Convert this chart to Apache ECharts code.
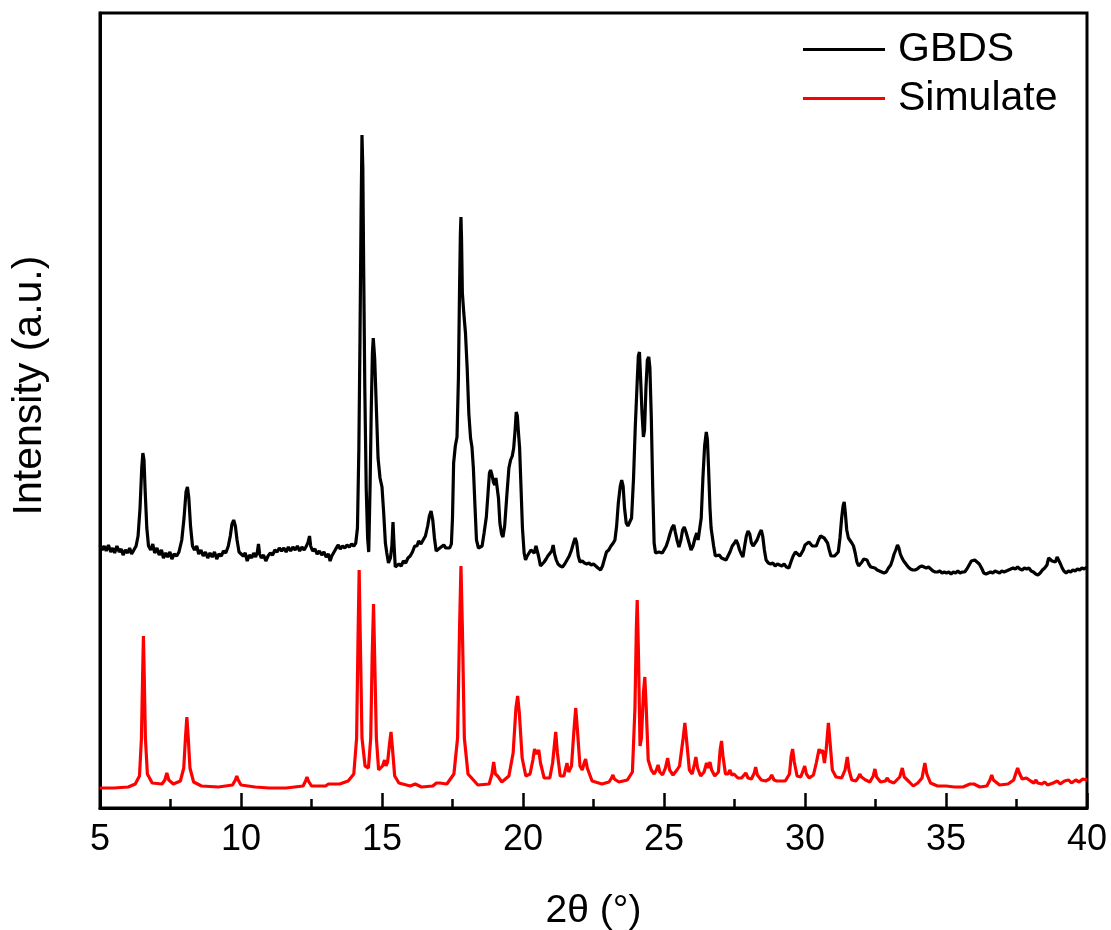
<!DOCTYPE html>
<html>
<head>
<meta charset="utf-8">
<script src="https://cdn.jsdelivr.net/npm/echarts@6/dist/echarts.min.js"></script>
<style>
html,body{margin:0;padding:0;background:#fff;}
#chart{width:1111px;height:930px;}
</style>
</head>
<body>
<div id="chart"></div>
<script>
// Series names
const seriesNames = ['GBDS', 'Simulate'];
// x-axis tick values (2θ, degrees)
const xTicks = [5, 10, 15, 20, 25, 30, 35, 40];

// Measured pattern GBDS: [2θ, intensity (a.u.)]
const gbds = [
[5.00,263],[5.08,258],[5.15,262],[5.22,257],[5.30,263],[5.38,256],[5.45,260],[5.52,255],[5.60,262],[5.68,256],[5.75,259],[5.82,253],[5.90,258],[5.98,255],[6.05,260],[6.12,254],[6.20,258],[6.28,262],[6.35,272],[6.42,300],[6.48,340],[6.52,355],[6.56,348],[6.60,318],[6.66,280],[6.72,262],[6.80,258],[6.87,264],[6.94,255],[7.02,260],[7.10,253],[7.18,258],[7.25,250],[7.33,255],[7.40,251],[7.48,256],[7.55,249],[7.63,254],[7.72,252],[7.80,256],[7.90,268],[7.98,290],[8.05,316],[8.10,321],[8.15,310],[8.21,282],[8.28,262],[8.35,258],[8.43,262],[8.50,254],[8.58,258],[8.66,252],[8.74,256],[8.82,250],[8.90,255],[8.98,251],[9.06,256],[9.14,249],[9.22,254],[9.30,252],[9.38,257],[9.46,255],[9.55,262],[9.62,272],[9.68,284],[9.74,288],[9.80,282],[9.86,268],[9.93,256],[10.00,258],[10.08,252],[10.15,255],[10.22,247],[10.30,253],[10.38,250],[10.45,255],[10.52,251],[10.58,256],[10.62,264],[10.66,254],[10.72,250],[10.80,253],[10.88,247],[10.96,252],[11.04,255],[11.12,253],[11.20,258],[11.28,256],[11.36,260],[11.44,257],[11.52,260],[11.60,256],[11.68,261],[11.76,257],[11.84,261],[11.92,258],[12.00,262],[12.08,257],[12.16,261],[12.24,258],[12.32,262],[12.38,266],[12.43,272],[12.47,262],[12.54,257],[12.62,259],[12.70,254],[12.78,257],[12.86,253],[12.94,256],[13.02,251],[13.10,254],[13.16,247],[13.22,252],[13.30,256],[13.38,260],[13.45,263],[13.52,259],[13.60,262],[13.68,260],[13.76,263],[13.84,261],[13.92,264],[14.00,262],[14.07,265],[14.13,280],[14.18,360],[14.22,470],[14.26,600],[14.29,673],[14.32,640],[14.35,540],[14.39,420],[14.44,320],[14.49,270],[14.53,256],[14.58,325],[14.62,400],[14.66,455],[14.69,470],[14.74,450],[14.80,400],[14.86,350],[14.93,330],[15.00,321],[15.06,295],[15.12,265],[15.17,255],[15.23,245],[15.30,250],[15.35,262],[15.39,286],[15.43,262],[15.47,241],[15.52,241],[15.60,244],[15.68,242],[15.76,247],[15.84,245],[15.92,250],[16.00,252],[16.08,256],[16.16,262],[16.24,262],[16.30,267],[16.38,264],[16.46,268],[16.54,272],[16.62,282],[16.68,292],[16.74,297],[16.80,288],[16.86,270],[16.92,257],[16.98,255],[17.05,260],[17.12,258],[17.19,263],[17.26,260],[17.33,262],[17.40,260],[17.46,264],[17.50,290],[17.54,345],[17.60,362],[17.66,371],[17.71,430],[17.75,520],[17.78,575],[17.80,591],[17.82,570],[17.85,515],[17.90,495],[17.96,475],[18.02,440],[18.08,394],[18.14,370],[18.19,361],[18.24,340],[18.30,300],[18.35,268],[18.42,260],[18.48,258],[18.55,262],[18.62,275],[18.70,291],[18.76,315],[18.81,335],[18.85,338],[18.90,333],[18.95,326],[19.00,323],[19.04,330],[19.08,328],[19.13,310],[19.18,285],[19.24,274],[19.29,271],[19.35,282],[19.42,310],[19.50,340],[19.56,348],[19.62,352],[19.67,360],[19.72,378],[19.76,396],[19.80,392],[19.84,375],[19.88,360],[19.93,320],[19.98,280],[20.04,255],[20.09,248],[20.15,252],[20.22,254],[20.28,258],[20.34,256],[20.40,255],[20.46,262],[20.50,264],[20.55,252],[20.62,242],[20.68,244],[20.75,246],[20.82,249],[20.88,252],[20.95,253],[21.02,257],[21.07,263],[21.12,254],[21.18,248],[21.24,244],[21.32,242],[21.40,241],[21.48,244],[21.56,248],[21.64,252],[21.72,258],[21.80,266],[21.85,270],[21.90,266],[21.96,252],[22.02,246],[22.10,247],[22.18,245],[22.26,244],[22.34,245],[22.42,243],[22.50,244],[22.58,242],[22.66,240],[22.75,238],[22.82,242],[22.90,250],[22.96,256],[23.04,258],[23.12,262],[23.20,265],[23.26,268],[23.32,282],[23.38,305],[23.45,322],[23.50,328],[23.55,322],[23.60,300],[23.66,285],[23.72,282],[23.79,281],[23.85,290],[23.92,330],[23.98,380],[24.04,420],[24.09,452],[24.13,456],[24.17,430],[24.22,395],[24.27,371],[24.31,378],[24.36,420],[24.41,448],[24.46,451],[24.50,440],[24.55,390],[24.60,320],[24.65,265],[24.70,255],[24.76,253],[24.82,256],[24.88,254],[24.94,255],[25.00,258],[25.08,262],[25.15,268],[25.22,275],[25.28,280],[25.35,283],[25.40,276],[25.46,268],[25.53,261],[25.60,268],[25.66,278],[25.72,281],[25.78,276],[25.84,270],[25.90,268],[25.96,258],[26.03,262],[26.10,270],[26.16,275],[26.21,268],[26.26,266],[26.32,290],[26.38,330],[26.44,362],[26.50,376],[26.54,368],[26.58,340],[26.63,300],[26.67,280],[26.71,272],[26.76,262],[26.82,252],[26.89,251],[26.96,253],[27.04,250],[27.12,249],[27.20,248],[27.26,250],[27.34,256],[27.42,262],[27.50,265],[27.56,268],[27.62,264],[27.68,258],[27.74,254],[27.80,251],[27.86,262],[27.92,272],[27.98,277],[28.04,274],[28.10,265],[28.16,262],[28.22,263],[28.30,268],[28.38,274],[28.45,278],[28.50,272],[28.56,258],[28.62,248],[28.70,245],[28.78,244],[28.86,245],[28.94,242],[29.02,244],[29.10,243],[29.18,242],[29.26,244],[29.34,241],[29.43,240],[29.50,246],[29.58,252],[29.66,256],[29.74,254],[29.82,252],[29.88,252],[29.94,258],[30.00,263],[30.06,265],[30.14,266],[30.20,264],[30.26,262],[30.32,260],[30.40,262],[30.48,268],[30.55,272],[30.62,271],[30.68,270],[30.74,269],[30.80,265],[30.86,258],[30.92,252],[30.98,251],[31.05,252],[31.12,253],[31.18,256],[31.24,270],[31.30,290],[31.35,302],[31.39,306],[31.43,295],[31.48,278],[31.54,270],[31.60,268],[31.66,265],[31.72,262],[31.78,255],[31.84,246],[31.90,242],[31.96,242],[32.02,246],[32.08,249],[32.14,251],[32.20,248],[32.26,244],[32.33,241],[32.40,240],[32.48,240],[32.56,238],[32.64,237],[32.72,236],[32.80,235],[32.88,236],[32.96,240],[33.04,243],[33.10,248],[33.16,254],[33.22,258],[33.28,263],[33.33,260],[33.38,254],[33.44,250],[33.50,247],[33.58,244],[33.66,241],[33.74,239],[33.82,238],[33.90,238],[33.98,239],[34.06,241],[34.14,242],[34.22,241],[34.30,240],[34.38,241],[34.46,239],[34.54,237],[34.62,236],[34.70,236],[34.78,237],[34.86,235],[34.94,236],[35.02,235],[35.10,236],[35.18,234],[35.26,236],[35.34,235],[35.42,237],[35.50,235],[35.58,236],[35.66,236],[35.74,239],[35.82,243],[35.90,247],[35.96,249],[36.02,248],[36.10,246],[36.18,244],[36.26,240],[36.34,235],[36.42,234],[36.50,235],[36.58,236],[36.66,235],[36.74,237],[36.82,236],[36.90,235],[36.98,237],[37.06,236],[37.14,237],[37.22,238],[37.30,239],[37.38,240],[37.46,239],[37.54,241],[37.62,239],[37.70,238],[37.78,240],[37.86,239],[37.94,240],[38.02,237],[38.10,236],[38.18,234],[38.26,233],[38.34,235],[38.42,238],[38.50,240],[38.58,243],[38.64,250],[38.70,252],[38.76,247],[38.82,249],[38.88,246],[38.94,251],[39.00,249],[39.06,244],[39.12,240],[39.18,237],[39.26,235],[39.34,237],[39.42,236],[39.50,238],[39.58,237],[39.66,239],[39.74,238],[39.82,240],[39.90,239],[40.00,241]
];

// Simulated pattern: [2θ, intensity (a.u.)]
const simulate = [
[5.00,20],[5.50,20],[6.00,21],[6.25,24],[6.40,32],[6.47,70],[6.51,130],[6.54,172],[6.57,130],[6.61,70],[6.68,34],[6.85,25],[7.20,24],[7.30,28],[7.37,35],[7.44,28],[7.60,24],[7.85,27],[7.97,40],[8.03,70],[8.08,91],[8.13,70],[8.19,40],[8.32,26],[8.60,22],[9.20,21],[9.70,23],[9.80,28],[9.85,32],[9.90,28],[10.00,23],[10.50,21],[11.00,20],[11.60,20],[12.20,22],[12.29,27],[12.34,31],[12.39,27],[12.50,22],[13.00,22],[13.10,24],[13.16,25],[13.22,24],[13.50,24],[13.80,27],[14.00,34],[14.10,70],[14.15,170],[14.19,238],[14.23,170],[14.29,70],[14.40,42],[14.52,40],[14.60,70],[14.65,150],[14.70,204],[14.74,150],[14.80,70],[14.88,38],[14.95,36],[15.02,42],[15.09,48],[15.14,42],[15.20,46],[15.27,65],[15.32,76],[15.37,60],[15.45,32],[15.60,25],[16.00,22],[16.18,24],[16.40,21],[16.80,22],[16.93,25],[16.99,27],[17.05,25],[17.30,24],[17.55,34],[17.68,70],[17.75,180],[17.80,242],[17.85,180],[17.92,70],[18.05,34],[18.40,23],[18.80,24],[18.90,34],[18.96,46],[19.02,34],[19.10,32],[19.25,26],[19.50,32],[19.65,55],[19.75,100],[19.81,112],[19.87,95],[19.97,50],[20.10,32],[20.25,34],[20.35,48],[20.41,59],[20.48,54],[20.56,58],[20.62,45],[20.75,30],[20.95,30],[21.05,45],[21.16,76],[21.22,55],[21.32,32],[21.45,32],[21.56,45],[21.62,36],[21.72,42],[21.80,75],[21.87,100],[21.93,78],[22.02,42],[22.10,38],[22.17,45],[22.22,49],[22.28,40],[22.45,27],[22.80,24],[23.05,26],[23.14,30],[23.19,33],[23.24,29],[23.40,26],[23.70,28],[23.88,36],[23.97,100],[24.02,180],[24.05,208],[24.09,160],[24.15,62],[24.20,70],[24.27,115],[24.32,131],[24.37,100],[24.44,48],[24.55,38],[24.65,34],[24.73,38],[24.79,43],[24.85,36],[24.95,33],[25.05,40],[25.13,50],[25.20,38],[25.32,33],[25.46,38],[25.55,42],[25.68,70],[25.74,85],[25.80,68],[25.90,38],[26.00,34],[26.08,44],[26.13,51],[26.19,40],[26.30,32],[26.42,36],[26.51,45],[26.57,40],[26.63,46],[26.69,38],[26.80,32],[26.93,36],[26.99,58],[27.04,67],[27.09,52],[27.18,34],[27.27,34],[27.34,38],[27.40,33],[27.48,34],[27.54,36],[27.62,30],[27.75,30],[27.90,35],[27.98,30],[28.10,29],[28.20,35],[28.25,41],[28.31,33],[28.45,28],[28.60,27],[28.74,29],[28.82,33],[28.90,28],[29.00,27],[29.05,29],[29.12,27],[29.30,27],[29.45,34],[29.51,52],[29.56,59],[29.62,46],[29.72,32],[29.85,31],[29.94,38],[29.99,42],[30.05,34],[30.15,30],[30.30,33],[30.40,45],[30.50,59],[30.56,55],[30.62,58],[30.69,45],[30.75,58],[30.83,85],[30.89,65],[30.97,38],[31.10,31],[31.30,30],[31.42,38],[31.50,51],[31.56,38],[31.66,28],[31.80,27],[31.88,30],[31.94,34],[32.00,31],[32.15,28],[32.30,26],[32.42,32],[32.48,39],[32.54,31],[32.68,26],[32.85,27],[32.92,30],[32.98,27],[33.15,25],[33.36,31],[33.45,40],[33.52,31],[33.70,26],[33.84,22],[34.00,25],[34.15,30],[34.25,45],[34.32,34],[34.45,25],[34.70,22],[35.00,22],[35.30,21],[35.60,21],[35.85,24],[35.92,26],[35.99,24],[36.20,21],[36.45,22],[36.56,28],[36.62,33],[36.68,28],[36.90,23],[37.20,24],[37.40,28],[37.48,35],[37.54,40],[37.60,35],[37.70,29],[37.85,30],[38.00,27],[38.12,25],[38.19,28],[38.25,25],[38.40,24],[38.50,26],[38.60,23],[38.80,25],[38.95,27],[39.05,24],[39.20,27],[39.35,28],[39.45,25],[39.60,28],[39.72,26],[39.85,29],[40.00,28]
];

const chart = echarts.init(document.getElementById('chart'));
const FONT = '"Liberation Sans", Arial, sans-serif';
chart.setOption({
  animation: false,
  backgroundColor: '#ffffff',
  grid: { left: 100, right: 24, top: 13, bottom: 122, show: true, borderColor: '#000', borderWidth: 3, backgroundColor: 'transparent', outerBoundsMode: 'none', containLabel: false },
  legend: {
    orient: 'vertical',
    left: 803,
    top: 29,
    padding: 0,
    itemWidth: 82,
    itemHeight: 3,
    itemGap: 8,
    data: [
      { name: seriesNames[0], icon: 'rect' },
      { name: seriesNames[1], icon: 'rect' }
    ],
    textStyle: { fontFamily: FONT, fontSize: 41, color: '#000', padding: [0, 0, 0, 8] }
  },
  xAxis: {
    type: 'value',
    min: xTicks[0],
    max: xTicks[xTicks.length - 1],
    interval: 5,
    name: '2θ (°)',
    nameLocation: 'middle',
    nameGap: 84,
    nameTextStyle: { fontFamily: FONT, fontSize: 39, color: '#000' },
    axisLine: { show: true, lineStyle: { color: '#000', width: 3 } },
    axisTick: { show: true, inside: true, length: 15, lineStyle: { color: '#000', width: 2.5 } },
    minorTick: { show: true, splitNumber: 2, length: 9, lineStyle: { color: '#000', width: 2.5 } },
    axisLabel: { fontFamily: FONT, fontSize: 36, color: '#000', margin: 14 },
    splitLine: { show: false },
    minorSplitLine: { show: false }
  },
  yAxis: {
    type: 'value',
    min: 0,
    max: 795,
    name: 'Intensity (a.u.)',
    nameLocation: 'middle',
    nameGap: 50,
    nameTextStyle: { fontFamily: FONT, fontSize: 41, color: '#000', padding: [0, 0, 0, 50] },
    axisLine: { show: true, lineStyle: { color: '#000', width: 3 } },
    axisTick: { show: false },
    axisLabel: { show: false },
    splitLine: { show: false }
  },
  series: [
    { name: seriesNames[0], type: 'line', data: gbds, symbol: 'none', color: '#000000',
      lineStyle: { color: '#000000', width: 3.2 } },
    { name: seriesNames[1], type: 'line', data: simulate, symbol: 'none', color: '#ff0000',
      lineStyle: { color: '#ff0000', width: 3.2 } }
  ]
});
</script>
</body>
</html>
